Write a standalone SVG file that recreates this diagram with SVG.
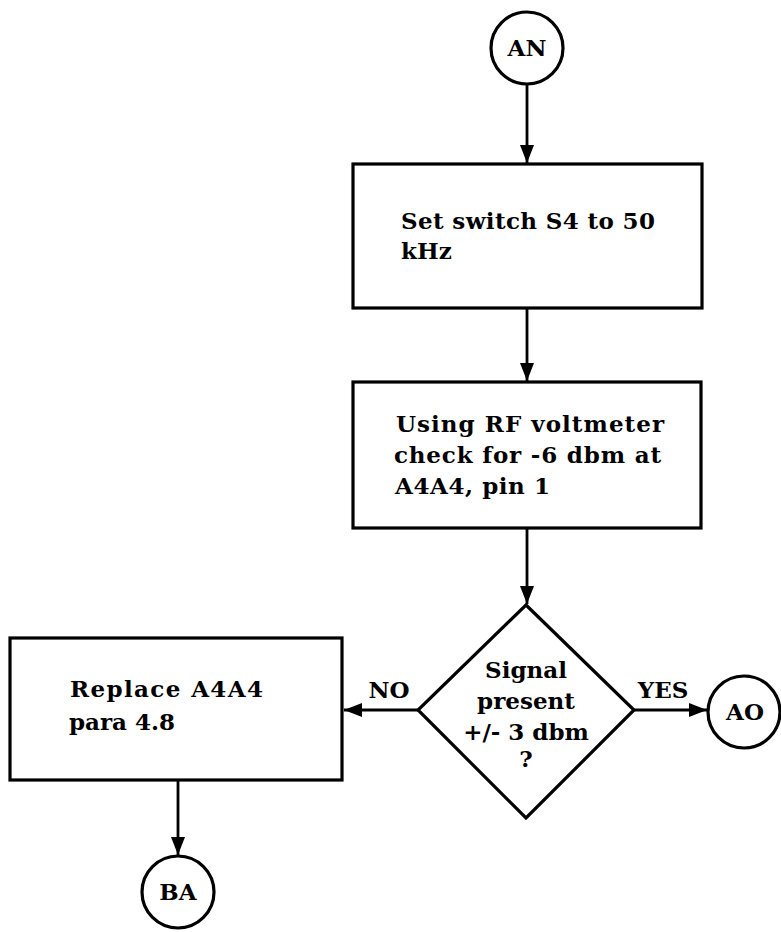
<svg xmlns="http://www.w3.org/2000/svg" width="781" height="932" viewBox="0 0 781 932">
<style>
.shape{fill:#fff;stroke:#000;stroke-width:3.2}
.conn{fill:none;stroke:#000;stroke-width:2.8}
text{font-family:"DejaVu Serif","Liberation Serif",serif;font-weight:bold;font-size:23px;fill:#000}
.c{text-anchor:middle}
</style>
<defs>
<marker id="arr" markerUnits="userSpaceOnUse" markerWidth="18" markerHeight="14" viewBox="0 0 18 14" refX="18" refY="7" orient="auto">
<path d="M0,0 L18,7 L0,14 Z" fill="#000"/>
</marker>
</defs>
<g id="connectors">
<line class="conn" x1="527" y1="84" x2="527" y2="163" marker-end="url(#arr)"/>
<line class="conn" x1="527" y1="308" x2="527" y2="381" marker-end="url(#arr)"/>
<line class="conn" x1="527" y1="528" x2="527" y2="604" marker-end="url(#arr)"/>
<line class="conn" x1="418" y1="710" x2="344" y2="710" marker-end="url(#arr)"/>
<line class="conn" x1="634" y1="710" x2="707" y2="710" marker-end="url(#arr)"/>
<line class="conn" x1="178" y1="780" x2="178" y2="855" marker-end="url(#arr)"/>
<text x="389" y="698" class="c">NO</text>
<text x="663" y="698" class="c">YES</text>
</g>
<g id="AN">
<circle class="shape" cx="527" cy="48" r="36"/>
<text x="527" y="56" class="c">AN</text>
</g>
<g id="box1">
<rect class="shape" x="353" y="164" width="349" height="144"/>
<text x="401" y="229" textLength="254" lengthAdjust="spacing">Set switch S4 to 50</text>
<text x="401" y="259">kHz</text>
</g>
<g id="box2">
<rect class="shape" x="353" y="382" width="348" height="146"/>
<text x="396" y="432" textLength="268" lengthAdjust="spacing">Using RF voltmeter</text>
<text x="394" y="463" textLength="267" lengthAdjust="spacing">check for -6 dbm at</text>
<text x="395" y="494" textLength="155" lengthAdjust="spacing">A4A4, pin 1</text>
</g>
<g id="decision">
<polygon class="shape" points="526,605 634,710 526,818 418,710"/>
<text x="526" y="678" class="c">Signal</text>
<text x="526" y="709" class="c">present</text>
<text x="526" y="740" class="c">+/- 3 dbm</text>
<text x="526" y="767" class="c">?</text>
</g>
<g id="AO">
<circle class="shape" cx="744" cy="712" r="36"/>
<text x="745" y="720" class="c">AO</text>
</g>
<g id="box3">
<rect class="shape" x="10" y="638" width="332" height="142"/>
<text x="70" y="697" textLength="193" lengthAdjust="spacing">Replace A4A4</text>
<text x="69" y="730" textLength="106" lengthAdjust="spacing">para 4.8</text>
</g>
<g id="BA">
<circle class="shape" cx="178" cy="892" r="36"/>
<text x="178" y="900" class="c">BA</text>
</g>
</svg>
